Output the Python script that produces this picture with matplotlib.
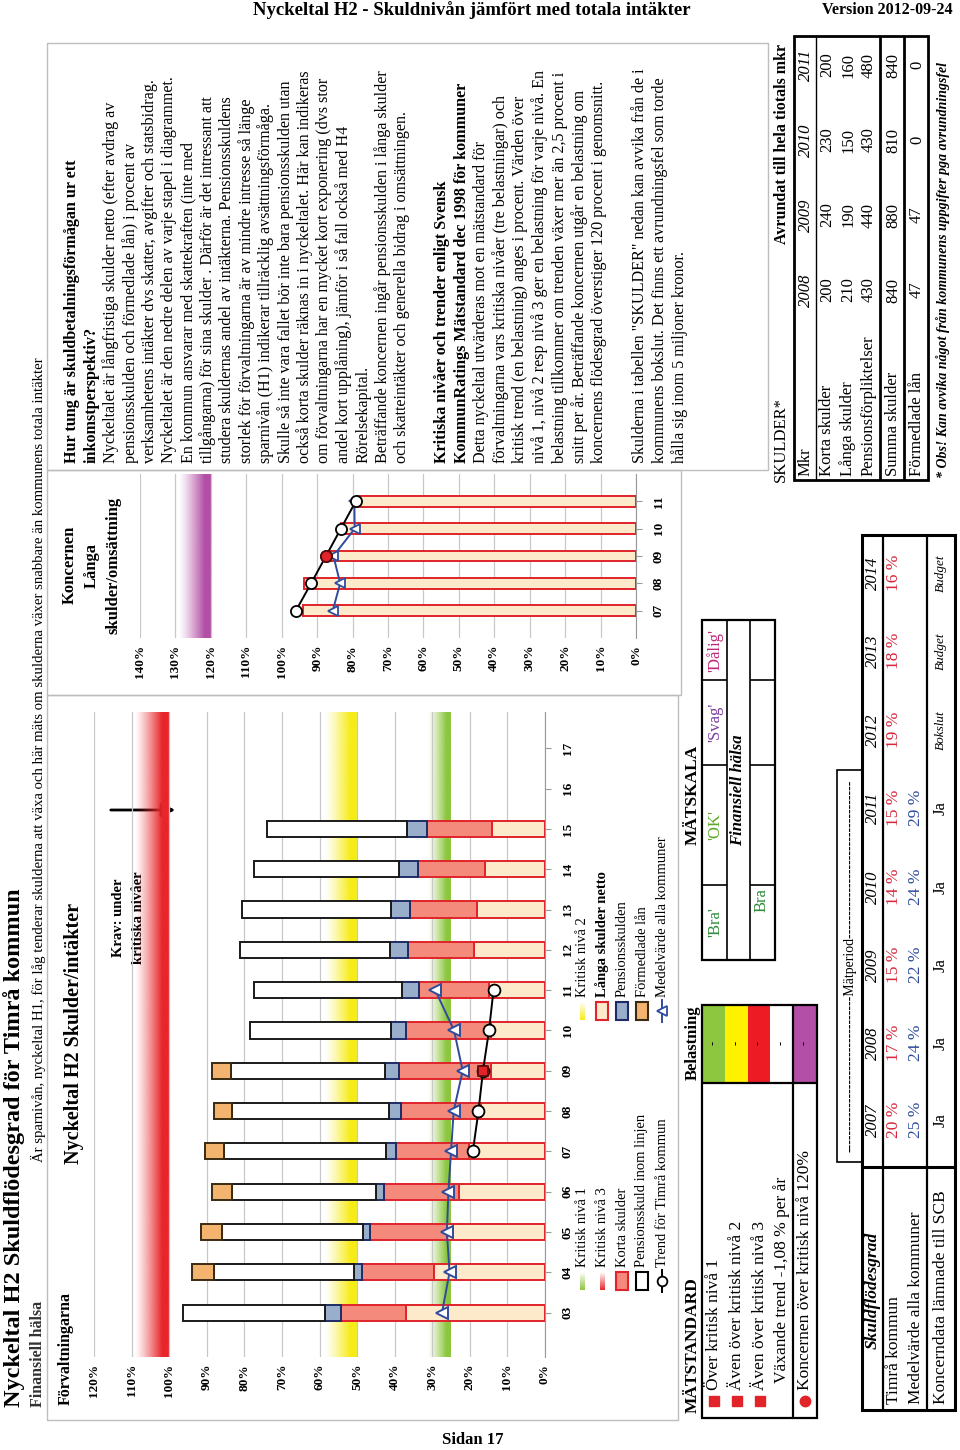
import numpy as np
import matplotlib.pyplot as plt
import matplotlib.colors as mcolors
from matplotlib.patches import Rectangle

plt.rcParams['font.family'] = ['Liberation Serif', 'DejaVu Serif']

# ============================================================
# Data read from the reference page
# ============================================================

YEARS = ["03", "04", "05", "06", "07", "08", "09", "10", "11",
         "12", "13", "14", "15", "16", "17"]

# Förvaltningarna, percent of total revenue, 2003-2015
LANGA_NETTO = [36.9, 29.5, 26.0, 22.8, 20.2, 17.0, 14.5, 14.5, 14.9, 18.9, 18.1, 15.9, 14.2]
KORTA = [17.3, 19.3, 20.5, 20.1, 19.4, 21.2, 24.4, 22.5, 18.5, 17.6, 17.9, 18.0, 17.2]
PENSION = [4.4, 2.1, 2.0, 2.0, 2.7, 3.4, 3.6, 4.0, 4.6, 4.8, 5.1, 5.0, 5.3]
PENSION_LINJEN = [37.6, 37.3, 37.5, 38.3, 43.0, 41.6, 41.1, 37.5, 39.3, 39.8, 39.6, 38.4, 37.3]
FORMEDLADE = [0.0, 5.8, 5.6, 5.3, 5.2, 5.0, 4.9, 0.0, 0.0, 0.0, 0.0, 0.0, 0.0]

MEDEL_YEARS = ["03", "04", "05", "06", "07", "08", "09", "10", "11"]
MEDEL = [27.4, 25.4, 26.1, 25.7, 25.0, 24.3, 21.9, 24.2, 29.2]

TREND_YEARS = ["07", "08", "09", "10", "11"]
TREND = [19.2, 17.7, 16.5, 14.9, 13.7]
TREND_MARK = "09"

# Koncernen, långa skulder / omsättning
K_YEARS = ["07", "08", "09", "10", "11"]
K_LANGA = [94.1, 93.6, 86.6, 83.3, 78.1]
K_TREND = [96.0, 91.7, 87.5, 83.3, 79.1]
K_MEDEL = [85.6, 83.5, 85.4, 79.4, 79.5]

# critical levels
NIVA_1, NIVA_2, NIVA_3, NIVA_KONCERN = 25, 50, 100, 120

# tables
TAB_YEARS = ["2007", "2008", "2009", "2010", "2011", "2012", "2013", "2014"]
TAB_TIMRA = ["20 %", "17 %", "15 %", "14 %", "15 %", "19 %", "18 %", "16 %"]
TAB_MEDEL = ["25 %", "24 %", "22 %", "24 %", "29 %"]
TAB_KONCERN = ["Ja", "Ja", "Ja", "Ja", "Ja", "Bokslut", "Budget", "Budget"]

SKULD_YEARS = ["2008", "2009", "2010", "2011"]
SKULD_ROWS = ["Korta skulder", "Långa skulder", "Pensionsförpliktelser",
              "Summa skulder", "Förmedlade lån"]
SKULD_VALUES = [
    [200, 240, 230, 200],
    [210, 190, 150, 160],
    [430, 440, 430, 480],
    [840, 880, 810, 840],
    [47, 47, 0, 0],
]

TEXT_LINES = [
    ("Hur tung är skuldbetalningsförmågan ur ett", True),
    ("inkomstperspektiv?", True),
    ("Nyckeltalet är långfristiga skulder netto (efter avdrag av", False),
    ("pensionsskulden och förmedlade lån) i procent av", False),
    ("verksamhetens intäkter dvs skatter, avgifter och statsbidrag.", False),
    ("Nyckeltalet är den nedre delen av varje stapel i diagrammet.", False),
    ("En kommun ansvarar med skattekraften (inte med", False),
    ("tillgångarna) för sina skulder . Därför är det intressant att", False),
    ("studera skuldernas andel av intäkterna. Pensionsskuldens", False),
    ("storlek för förvaltningarna är av mindre intresse så länge", False),
    ("sparnivån (H1) indikerar tillräcklig avsättningsförmåga.", False),
    ("Skulle så inte vara fallet bör inte bara pensionsskulden utan", False),
    ("också korta skulder räknas in i nyckeltalet. Här kan indikeras", False),
    ("om förvaltningarna har en mycket kort exponering (dvs stor", False),
    ("andel kort upplåning), jämför i så fall också med H4", False),
    ("Rörelsekapital.", False),
    ("Beträffande koncernen ingår pensionsskulden i långa skulder", False),
    ("och skatteintäkter och generella bidrag i omsättningen.", False),
]
TEXT_LINES_2 = [
    ("Kritiska nivåer och trender enligt Svensk", True),
    ("KommunRatings Mätstandard dec 1998 för kommuner", True),
    ("Detta nyckeltal utvärderas mot en mätstandard för", False),
    ("förvaltningarna vars kritiska nivåer (tre belastningar) och", False),
    ("kritisk trend (en belastning) anges i procent. Värden över", False),
    ("nivå 1, nivå 2 resp nivå 3 ger en belastning för varje nivå. En", False),
    ("belastning tillkommer om trenden växer mer än 2,5 procent i", False),
    ("snitt per år. Beträffande koncernen utgår en belastning om", False),
    ("koncernens flödesgrad överstiger 120 procent i genomsnitt.", False),
]
TEXT_LINES_3 = [
    ("Skulderna i tabellen \"SKULDER\" nedan kan avvika från de i", False),
    ("kommunens bokslut. Det finns ett avrundningsfel som torde", False),
    ("hålla sig inom 5 miljoner kronor.", False),
]

# ============================================================
# Colours
# ============================================================

C_CREAM = "#FDEACB"
C_SALMON = "#F48A7C"
C_BLUE = "#99AECB"
C_ORANGE = "#F2B46E"
C_RED_EDGE = "#E0242A"
C_NAVY = "#1F2B66"
C_GREEN = "#8DC63F"
C_YELLOW = "#F7EC16"
C_RED = "#E8262B"
C_PURPLE = "#B34FA6"
C_MEDEL = "#2F4C9C"
C_FRAME = "#BDBDBD"

W, H = 960, 1450
fig = plt.figure(figsize=(W / 100, H / 100), dpi=100)
page = fig.add_axes([0, 0, 1, 1])
page.set_xlim(0, W)
page.set_ylim(H, 0)
page.axis("off")


def ax_px(x0, y0, x1, y1):
    return fig.add_axes([x0 / W, 1 - y1 / H, (x1 - x0) / W, (y1 - y0) / H])


def vt(x, y, s, size=9, weight="normal", va="bottom", ha="center",
       color="black", style="normal", z=3):
    page.text(x, y, s, rotation=90, fontsize=size, fontweight=weight,
              va=va, ha=ha, color=color, fontstyle=style, zorder=z)


def rect(x0, y0, x1, y1, fc="none", ec="black", lw=1.0, z=2):
    page.add_patch(Rectangle((x0, y0), x1 - x0, y1 - y0, facecolor=fc,
                             edgecolor=ec, linewidth=lw, zorder=z))


def hline(x0, x1, y, lw=1.0, color="black"):
    page.plot([x0, x1], [y, y], color=color, lw=lw, solid_capstyle="butt")


def vline(x, y0, y1, lw=1.0, color="black"):
    page.plot([x, x], [y0, y1], color=color, lw=lw, solid_capstyle="butt")


def band(ax, level, width, color, y0, y1):
    rgba = np.zeros((1, 256, 4))
    rgba[..., :3] = mcolors.to_rgb(color)
    t = np.linspace(0, 1, 256)
    rgba[0, :, 3] = np.clip(1.25 * (1 - t), 0, 1) ** 1.2
    ax.imshow(rgba, extent=(level, level + width, y0, y1), aspect="auto",
              interpolation="bilinear", zorder=1)


# ============================================================
# Page texts and frames
# ============================================================

page.text(472, 10, "Nyckeltal H2 - Skuldnivån jämfört med totala intäkter",
          fontsize=13.5, fontweight="bold", ha="center", va="center")
page.text(952, 10, "Version 2012-09-24", fontsize=11.5, fontweight="bold",
          ha="right", va="center")
page.text(473, 1440, "Sidan 17", fontsize=12, fontweight="bold",
          ha="center", va="center")

vt(14, 1407, "Nyckeltal H2 Skuldflödesgrad för Timrå kommun", size=17.5, weight="bold")
vt(38, 1407, "Finansiell hälsa", size=11.5, weight="bold", color="#333333")
vt(38, 1162, "Är sparnivån, nyckeltal H1, för låg tenderar skulderna att växa och här "
   "mäts om skulderna växer snabbare än kommunens totala intäkter", size=10.6)

rect(47, 43, 768, 470, ec=C_FRAME, lw=1.0)
rect(47, 470, 681, 695, ec=C_FRAME, lw=1.0)
rect(47, 695, 678, 1420, ec=C_FRAME, lw=1.0)

vt(66, 1405, "Förvaltningarna", size=11.5, weight="bold")
vt(74, 1033, "Nyckeltal H2 Skulder/intäkter", size=14.5, weight="bold", va="center")

# ============================================================
# Main chart: Förvaltningarna
# ============================================================

ax = ax_px(94, 712, 545, 1357)
ylo, yhi = -1.1, 14.9
band(ax, NIVA_1, 6, C_GREEN, ylo, yhi)
band(ax, NIVA_2, 8.5, C_YELLOW, ylo, yhi)
band(ax, NIVA_3, 9, C_RED, ylo, yhi)

pos = np.arange(len(LANGA_NETTO))
left = np.zeros(len(pos))
segments = [
    (LANGA_NETTO, C_CREAM, C_RED_EDGE),
    (KORTA, C_SALMON, C_RED_EDGE),
    (PENSION, C_BLUE, C_NAVY),
    (PENSION_LINJEN, "white", "#1A1A1A"),
    (FORMEDLADE, C_ORANGE, "#3A2A12"),
]
for vals, fc, ec in segments:
    vals = np.array(vals)
    m = vals > 0
    ax.barh(pos[m], vals[m], left=left[m], height=0.4, color=fc,
            edgecolor=ec, linewidth=1.4, zorder=3)
    left = left + vals

mpos = [YEARS.index(y) for y in MEDEL_YEARS]
ax.plot(MEDEL, mpos, color=C_MEDEL, lw=1.4, marker="<", ms=8,
        mfc="white", mec=C_MEDEL, mew=1.4, zorder=5)
tpos = [YEARS.index(y) for y in TREND_YEARS]
ax.plot(TREND, tpos, color="black", lw=1.4, marker="o", ms=8.5,
        mfc="white", mec="black", mew=1.3, zorder=6)
k = TREND_YEARS.index(TREND_MARK)
ax.plot(TREND[k], tpos[k], marker="s", ms=7.5, mfc="#E0242A",
        mec="#5A0A0A", mew=1.2, zorder=7)

ax.set_xlim(120, 0)
ax.set_ylim(ylo, yhi)
ax.set_xticks(range(0, 121, 10))
ax.set_xticklabels([f"{v}%" for v in range(0, 121, 10)], rotation=90,
                   fontsize=9.5, fontweight="bold")
ax.set_yticks(range(len(YEARS)))
ax.set_yticklabels(YEARS, rotation=90, fontsize=9.5, fontweight="bold",
                   va="center")
ax.yaxis.tick_right()
ax.tick_params(axis="x", length=0, pad=5)
ax.tick_params(axis="y", length=4, color="#999999", pad=8)
ax.grid(axis="x", color="#C8C8C8", lw=0.9, zorder=0)
for s in ["left", "top", "bottom"]:
    ax.spines[s].set_visible(False)
ax.spines["right"].set_color("#999999")
ax.set_facecolor("none")

# Krav note with arrow
page.annotate("", xy=(178, 810), xytext=(108, 810),
              arrowprops=dict(arrowstyle="-|>", color="black", lw=2.0,
                              mutation_scale=20))
page.add_patch(Rectangle((106, 848), 44, 147, facecolor="white",
                         edgecolor="none", zorder=4))
page.text(119, 918, "Krav: under", rotation=90, fontsize=10.5, fontweight="bold",
          ha="center", va="center", zorder=5)
page.text(138, 918, "kritiska nivåer", rotation=90, fontsize=10.5, fontweight="bold",
          ha="center", va="center", zorder=5)

# ------------------------------------------------------------
# Legend
# ------------------------------------------------------------


def grad_key(x, y, color):
    rgba = np.zeros((64, 1, 4))
    rgba[..., :3] = mcolors.to_rgb(color)
    rgba[:, 0, 3] = np.linspace(0, 1, 64)
    page.imshow(rgba, extent=(x - 2.5, x + 2.5, y + 9, y - 9), aspect="auto",
                interpolation="bilinear", zorder=3)


def box_key(x, y, fc, ec):
    rect(x - 6, y - 9, x + 6, y + 9, fc=fc, ec=ec, lw=1.5, z=3)


def line_key(x, y, color, marker):
    page.plot([x, x], [y - 11, y + 11], color=color, lw=1.4, zorder=3)
    page.plot(x, y, marker=marker, ms=7, mfc="white", mec=color, mew=1.3, zorder=4)


ka, kb = 1281, 1011
rows_x = [582, 602, 622, 642, 662]
LSIZE = 10.5
grad_key(rows_x[0], ka, C_GREEN)
vt(rows_x[0], 1267, "Kritisk nivå 1", size=LSIZE)
grad_key(rows_x[1], ka, C_RED)
vt(rows_x[1], 1267, "Kritisk nivå 3", size=LSIZE)
box_key(rows_x[2], ka, C_SALMON, C_RED_EDGE)
vt(rows_x[2], 1267, "Korta skulder", size=LSIZE)
box_key(rows_x[3], ka, "white", "black")
vt(rows_x[3], 1267, "Pensionsskuld inom linjen", size=LSIZE)
line_key(rows_x[4], ka, "black", "o")
vt(rows_x[4], 1267, "Trend för Timrå kommun", size=LSIZE)

grad_key(rows_x[0], kb, C_YELLOW)
vt(rows_x[0], 997, "Kritisk nivå 2", size=LSIZE)
box_key(rows_x[1], kb, C_CREAM, C_RED_EDGE)
vt(rows_x[1], 997, "Långa skulder netto", size=LSIZE, weight="bold")
box_key(rows_x[2], kb, C_BLUE, C_NAVY)
vt(rows_x[2], 997, "Pensionsskulden", size=LSIZE)
box_key(rows_x[3], kb, C_ORANGE, "#3A2A12")
vt(rows_x[3], 997, "Förmedlade lån", size=LSIZE)
line_key(rows_x[4], kb, C_MEDEL, "<")
vt(rows_x[4], 997, "Medelvärde alla kommuner", size=LSIZE)

# ============================================================
# Koncernen chart
# ============================================================

vt(70, 565, "Koncernen", size=12, weight="bold", va="center")
vt(92, 565, "Långa", size=12, weight="bold", va="center")
vt(114, 565, "skulder/omsättning", size=12, weight="bold", va="center")

kx = ax_px(140, 474, 636, 638)
band(kx, NIVA_KONCERN, 9, C_PURPLE, -1, 5)
kpos = np.arange(len(K_YEARS))
kx.barh(kpos, K_LANGA, height=0.4, color=C_CREAM, edgecolor=C_RED_EDGE,
        linewidth=1.4, zorder=3)
kx.plot(K_MEDEL, kpos, color=C_MEDEL, lw=1.4, marker="<", ms=7,
        mfc="white", mec=C_MEDEL, mew=1.3, zorder=5)
kx.plot(K_TREND, kpos, color="black", lw=1.4, marker="o", ms=8,
        mfc="white", mec="black", mew=1.3, zorder=6)
k = K_YEARS.index(TREND_MARK)
kx.plot(K_TREND[k], kpos[k], marker="o", ms=8, mfc="#E0242A", mec="#5A0A0A",
        mew=1.2, zorder=7)
kx.set_xlim(140, 0)
kx.set_ylim(-1, 5)
kx.set_xticks(range(0, 141, 10))
kx.set_xticklabels([f"{v}%" for v in range(0, 141, 10)], rotation=90,
                   fontsize=9.5, fontweight="bold")
kx.set_yticks(kpos)
kx.set_yticklabels(K_YEARS, rotation=90, fontsize=9.5, fontweight="bold",
                   va="center")
kx.yaxis.tick_right()
kx.tick_params(axis="x", length=0, pad=5)
kx.tick_params(axis="y", length=4, color="#999999", pad=8)
kx.grid(axis="x", color="#C8C8C8", lw=0.9, zorder=0)
for s in ["left", "top", "bottom"]:
    kx.spines[s].set_visible(False)
kx.spines["right"].set_color("#999999")
kx.set_facecolor("none")

# ============================================================
# Text block
# ============================================================

TSIZE = 11.6
for i, (s, b) in enumerate(TEXT_LINES):
    vt(72 + i * 19.4, 463, s, size=TSIZE, weight="bold" if b else "normal")
for i, (s, b) in enumerate(TEXT_LINES_2):
    vt(442 + i * 19.6, 463, s, size=TSIZE, weight="bold" if b else "normal")
for i, (s, b) in enumerate(TEXT_LINES_3):
    vt(640 + i * 19.6, 463, s, size=TSIZE, weight="bold" if b else "normal")

# ============================================================
# SKULDER table
# ============================================================

vt(781, 482, "SKULDER*", size=12)
vt(782, 44, "Avrundat till hela tiotals mkr", size=11.5, weight="bold", va="top")
rect(794, 36, 928, 480, lw=2.0)
skuld_y = [290, 215, 140, 65]
row_x = [827, 848, 869, 893, 917]
vt(806, 476, "Mkr", size=12)
for yv, yr in zip(skuld_y, SKULD_YEARS):
    vt(806, yv, yr, size=12, style="italic", va="center")
vline(816, 36, 480, lw=1.0)
for r, (lab, vals) in enumerate(zip(SKULD_ROWS, SKULD_VALUES)):
    vt(row_x[r], 476, lab, size=12)
    for yv, v in zip(skuld_y, vals):
        vt(row_x[r], yv, str(v), size=12, va="center")
vline(880, 36, 480, lw=2.0)
vline(904, 36, 480, lw=2.0)
vt(943, 478, "* Obs! Kan avvika något från kommunens uppgifter pga avrundningsfel",
   size=10, weight="bold", style="italic")

# ============================================================
# MÄTSTANDARD
# ============================================================

vt(693, 1413, "MÄTSTANDARD", size=12.5, weight="bold")
vt(693, 1043, "Belastning", size=12, weight="bold", va="center")
belast_colors = [C_GREEN, "#FFF200", "#ED1C24", "white", C_PURPLE]
bx = [703, 725, 748, 770, 793, 816]
for i, c in enumerate(belast_colors):
    rect(bx[i], 1005, bx[i + 1], 1083, fc=c, ec="none", z=1)
    vt((bx[i] + bx[i + 1]) / 2, 1043, "-", size=9, va="center")
rect(702, 1005, 817, 1418, lw=1.6)
vline(793, 1005, 1418, lw=1.6)
hline(702, 817, 1083, lw=1.6)
mat_rows = ["Över kritisk nivå 1", "Även över kritisk nivå 2",
            "Även över kritisk nivå 3", "Växande trend -1,08 % per år",
            "Koncernen över kritisk nivå 120%"]
mat_x = [714, 737, 760, 782, 805]
for i, s in enumerate(mat_rows):
    if i < 3:
        page.plot(mat_x[i], 1401, marker="s", ms=6.5, color="#E0242A", zorder=4)
    if i == 4:
        page.plot(mat_x[i], 1401, marker="o", ms=7.5, color="#E0242A", zorder=4)
    vt(mat_x[i], 1390 if i != 3 else 1383, s, size=12.5)

# ============================================================
# MÄTSKALA
# ============================================================

vt(693, 795, "MÄTSKALA", size=12.5, weight="bold", va="center")
rect(702, 620, 775, 960, lw=1.6)
vline(727, 620, 960, lw=1.2)
vline(750, 620, 960, lw=1.2)
for yb in [885, 765, 680]:
    hline(702, 727, yb, lw=1.2)
    hline(750, 775, yb, lw=1.2)
skala = [("'Bra'", "#2E8B3A"), ("'OK'", "#5EA82A"),
         ("'Svag'", "#7A3FA0"), ("'Dålig'", "#C0287A")]
for (s, c), yc in zip(skala, [922, 825, 722, 650]):
    vt(715, yc, s, size=12, color=c, va="center")
vt(738, 790, "Finansiell hälsa", size=12, weight="bold", style="italic", va="center")
vt(762, 900, "Bra", size=12, color="#2E8B3A", va="center")

# ============================================================
# Skuldflödesgrad table
# ============================================================

col_y = [1120, 1043, 965, 887, 808, 730, 651, 573]
rect(837, 770, 862, 1162, lw=1.2)
dash = "-" * 34
vt(850, 966, dash + "Mätperiod" + dash, size=10, va="center")
rect(862, 535, 955, 1410, lw=2.2)
vline(883, 535, 1410, lw=1.6)
vline(927, 535, 1410, lw=1.6)
hline(862, 955, 1167, lw=2.2)
vt(873, 1290, "Skuldflödesgrad", size=12.5, weight="bold", style="italic", va="center")
vt(894, 1404, "Timrå kommun", size=12.5)
vt(916, 1404, "Medelvärde alla kommuner", size=12.5)
vt(941, 1404, "Koncerndata lämnade till SCB", size=12.5)
for i, yc in enumerate(col_y):
    vt(873, yc, TAB_YEARS[i], size=12, style="italic", va="center")
    vt(894, yc, TAB_TIMRA[i], size=12.5, color="#D7263A", va="center")
    if i < len(TAB_MEDEL):
        vt(916, yc, TAB_MEDEL[i], size=12.5, color="#2F4C9C", va="center")
    small = i >= 5
    vt(941, yc, TAB_KONCERN[i], size=9.5 if small else 12,
       style="italic" if small else "normal", va="center")

fig.savefig("out.png", dpi=100)
